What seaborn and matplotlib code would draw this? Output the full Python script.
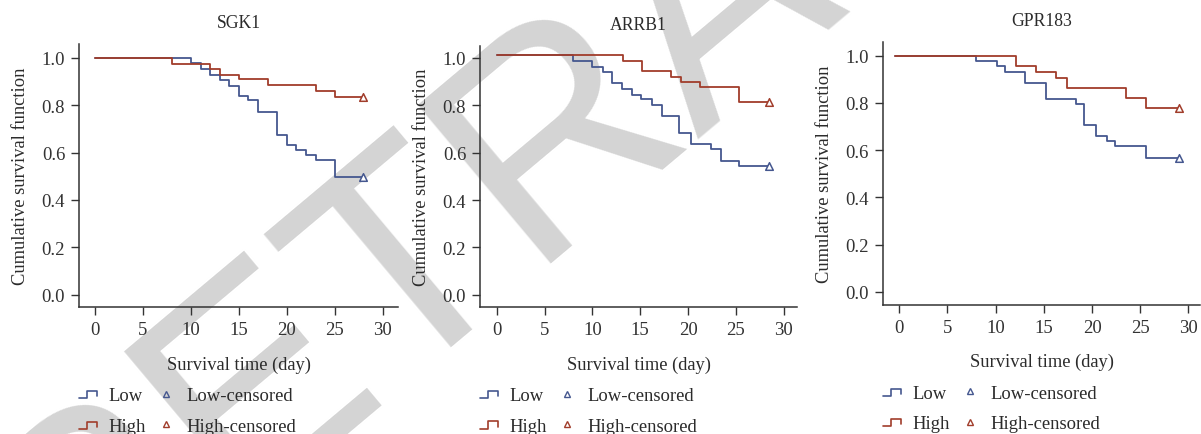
import numpy as np
import pandas as pd
import matplotlib
matplotlib.use('Agg')
import matplotlib.pyplot as plt
import seaborn as sns
from matplotlib.lines import Line2D
from matplotlib.legend_handler import HandlerBase

# survival curves (time in days, survival fraction)
sgk1_low_t = [0, 10, 11, 12, 13, 14, 15, 16, 17, 19, 20, 21, 22, 23, 25, 28]
sgk1_low_s = [1.0, 0.977, 0.952, 0.930, 0.907, 0.883, 0.839, 0.821, 0.772, 0.676, 0.634, 0.611, 0.590, 0.570, 0.496, 0.496]
sgk1_high_t = [0, 8, 12, 13, 15, 18, 23, 25, 28]
sgk1_high_s = [1.0, 0.975, 0.954, 0.930, 0.910, 0.887, 0.862, 0.837, 0.837]

arrb1_low_t = [0, 8, 10, 11.1, 12.1, 13.1, 14.1, 15.1, 16.25, 17.26, 19.07, 20.26, 22.35, 23.4, 25.37, 28.44]
arrb1_low_s = [1.013, 0.987, 0.962, 0.939, 0.894, 0.868, 0.845, 0.825, 0.800, 0.755, 0.683, 0.637, 0.615, 0.565, 0.544, 0.544]
arrb1_high_t = [0, 13.2, 15.2, 18.27, 19.25, 21.27, 25.37, 28.44]
arrb1_high_s = [1.013, 0.987, 0.946, 0.921, 0.900, 0.879, 0.815, 0.815]

gpr183_low_t = [-0.4, 7.93, 10.1, 11.0, 13.06, 15.24, 18.3, 19.2, 20.4, 21.5, 22.4, 25.6, 29.06]
gpr183_low_s = [1.0, 0.979, 0.955, 0.932, 0.883, 0.818, 0.794, 0.708, 0.661, 0.640, 0.619, 0.566, 0.566]
gpr183_high_t = [-0.4, 12.1, 14.2, 16.3, 17.4, 23.5, 25.6, 29.06]
gpr183_high_s = [1.0, 0.958, 0.931, 0.907, 0.864, 0.821, 0.778, 0.778]

genes = ['SGK1', 'ARRB1', 'GPR183']
curves = {
    'SGK1': (sgk1_low_t, sgk1_low_s, sgk1_high_t, sgk1_high_s),
    'ARRB1': (arrb1_low_t, arrb1_low_s, arrb1_high_t, arrb1_high_s),
    'GPR183': (gpr183_low_t, gpr183_low_s, gpr183_high_t, gpr183_high_s),
}
x_ticks = [0, 5, 10, 15, 20, 25, 30]
y_ticks = [0.0, 0.2, 0.4, 0.6, 0.8, 1.0]

LOW_COLOR = '#45578f'
HIGH_COLOR = '#a13d2b'
TEXT_COLOR = '#2b2b2b'

sns.set_theme(style='ticks')
plt.rcParams['font.family'] = ['Liberation Serif', 'DejaVu Serif']
plt.rcParams['text.color'] = TEXT_COLOR
plt.rcParams['axes.labelcolor'] = TEXT_COLOR
plt.rcParams['xtick.color'] = '#333333'
plt.rcParams['ytick.color'] = '#333333'


class StepHandler(HandlerBase):
    """little step icon used in the legend for the survival lines"""
    def create_artists(self, legend, orig_handle, xdescent, ydescent,
                       width, height, fontsize, trans):
        x0 = -xdescent
        xs = [x0, x0 + 0.45 * width, x0 + 0.45 * width, x0 + 0.95 * width, x0 + 0.95 * width]
        ys = [0.15 * height, 0.15 * height, 0.7 * height, 0.7 * height, 0.3 * height]
        ys = [y - ydescent for y in ys]
        line = Line2D(xs, ys, color=orig_handle.get_color(), lw=1.2)
        line.set_transform(trans)
        return [line]


fig = plt.figure(figsize=(12.01, 4.35), dpi=100)

# retraction watermark sitting behind the panels
fig.text(0.0558, -0.492, 'RETRACTED', rotation=40, rotation_mode='anchor',
         ha='left', va='baseline', fontsize=216,
         family='Liberation Sans', color='#d4d4d4', zorder=-5)

positions = [
    [0.0658, 0.292, 0.2656, 0.6046],
    [0.3997, 0.2912, 0.2640, 0.6015],
    [0.7352, 0.2973, 0.2640, 0.6037],
]
xlims = [(-1.67, 31.6), (-1.74, 31.4), (-1.69, 31.2)]
ylims = [(-0.052, 1.059), (-0.053, 1.052), (-0.055, 1.058)]

for gene, pos, xl, yl in zip(genes, positions, xlims, ylims):
    ax = fig.add_axes(pos)
    ax.patch.set_alpha(0)
    lt, ls, ht, hs = curves[gene]
    df = pd.concat([
        pd.DataFrame({'time': lt, 'surv': ls, 'group': 'Low'}),
        pd.DataFrame({'time': ht, 'surv': hs, 'group': 'High'}),
    ])
    sns.lineplot(data=df, x='time', y='surv', hue='group', estimator=None,
                 palette={'Low': LOW_COLOR, 'High': HIGH_COLOR},
                 drawstyle='steps-post', lw=1.3, legend=False, ax=ax)
    # censored marks at the end of follow-up
    cens = pd.DataFrame({'time': [lt[-1], ht[-1]], 'surv': [ls[-1], hs[-1]],
                         'group': ['Low', 'High']})
    for g, c in [('Low', LOW_COLOR), ('High', HIGH_COLOR)]:
        sub = cens[cens['group'] == g]
        ax.scatter(sub['time'], sub['surv'], marker='^', s=30,
                   facecolors='white', edgecolors=c, linewidths=1.1, zorder=3)

    ax.set_xlim(*xl)
    ax.set_ylim(*yl)
    ax.set_xticks(x_ticks)
    ax.set_yticks(y_ticks)
    ax.set_yticklabels([f'{v:.1f}' for v in y_ticks])
    ax.tick_params(labelsize=13.5, length=6, width=1.0, pad=4)
    ax.set_title(gene, fontsize=12.7, pad=12)
    ax.set_xlabel('Survival time (day)', fontsize=13.3, labelpad=12.5)
    ax.set_ylabel('Cumulative survival function', fontsize=13.3, labelpad=9)
    sns.despine(ax=ax)
    for sp in ['left', 'bottom']:
        ax.spines[sp].set_color('#333333')
        ax.spines[sp].set_linewidth(1.1)

    handles = [Line2D([], [], color=LOW_COLOR), Line2D([], [], color=HIGH_COLOR),
               Line2D([], [], ls='none', marker='^', markersize=5, mfc='none',
                      mec=LOW_COLOR, mew=1.0),
               Line2D([], [], ls='none', marker='^', markersize=5, mfc='none',
                      mec=HIGH_COLOR, mew=1.0)]
    labels = ['Low', 'High', 'Low-censored', 'High-censored']
    ax.legend(handles, labels, ncol=2, loc='upper left', bbox_to_anchor=(0.0, -0.305),
              frameon=False, fontsize=13.4, handlelength=1.0, handletextpad=0.6,
              columnspacing=0.55, labelspacing=0.72, borderpad=0, borderaxespad=0,
              handler_map={handles[0]: StepHandler(), handles[1]: StepHandler()})

fig.savefig('out.png', dpi=100)
